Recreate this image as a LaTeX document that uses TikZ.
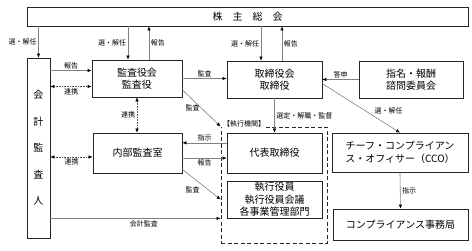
\documentclass[tikz,border=0pt]{standalone}
\usepackage{fontspec}
\newfontfamily\cjk{Noto Sans CJK JP}
\usetikzlibrary{arrows.meta,calc}
\tikzset{
  box/.style={draw=black!85,line width=0.7pt,align=center,inner sep=1pt,font=\cjk\fontsize{10}{12.5}\selectfont},
  lbl/.style={font=\cjk\fontsize{7}{8}\selectfont,inner sep=1.5pt},
  conn/.style={draw=black!50,line width=0.6pt,-{Latex[length=4pt,width=3.5pt,color=black]}},
  link/.style={draw=black!70,line width=0.6pt,densely dotted,{Latex[length=4pt,width=3.5pt,color=black]}-{Latex[length=4pt,width=3.5pt,color=black]}},
}
\begin{document}
\begin{tikzpicture}[x=1pt,y=-1pt]
\useasboundingbox (0,0) rectangle (472,250);
% boxes
\node[box,minimum width=441pt,minimum height=19pt] (soukai) at (247.5,16.5) {株\quad 主\quad 総\quad 会};
\node[box,minimum width=23pt,minimum height=180pt] (kaikei) at (38.5,148) {会\\[14pt]計\\[14pt]監\\[14pt]査\\[14pt]人};
\node[box,minimum width=90pt,minimum height=37pt] (kansa) at (137,78.5) {監査役会\\監査役};
\node[box,minimum width=95pt,minimum height=37pt] (tori) at (274.5,79.5) {取締役会\\取締役};
\node[box,minimum width=104pt,minimum height=37pt] (shimei) at (411,79.5) {指名・報酬\\諮問委員会};
\node[box,minimum width=89pt,minimum height=40pt] (naibu) at (137.5,153) {内部監査室};
\node[box,minimum width=95pt,minimum height=40pt] (daihyo) at (274.5,153) {代表取締役};
\node[box,minimum width=95pt,minimum height=37pt] (shikko) at (274.5,199.5) {執行役員\\執行役員会議\\各事業管理部門};
\node[box,minimum width=136pt,minimum height=39pt] (cco) at (400,152.5) {チーフ・コンプライアン\\ス・オフィサー（CCO）};
\node[box,minimum width=135pt,minimum height=31pt] (jimu) at (400.5,224.5) {コンプライアンス事務局};
% executive frame
\node[draw=black!85,line width=0.9pt,dash pattern=on 4pt off 2.5pt,minimum width=106pt,minimum height=116pt] (kikan) at (274,185) {};
\node[lbl,fill=white,anchor=south west,inner sep=1pt] (kikanlbl) at (222,128.5) {【執行機関】};
% from the shareholders
\draw[conn] (kaikei.north |- soukai.south) -- (kaikei.north) node[lbl,midway,left]{選・解任};
\draw[conn] ($(kansa.north |- soukai.south)+(-9,0)$) -- ($(kansa.north)+(-9,0)$) node[lbl,midway,left]{選・解任};
\draw[conn] ($(kansa.north)+(12,0)$) -- ($(kansa.north |- soukai.south)+(12,0)$) node[lbl,midway,right]{報告};
\draw[conn] ($(tori.north |- soukai.south)+(-13.5,0)$) -- ($(tori.north)+(-13.5,0)$) node[lbl,midway,left]{選・解任};
\draw[conn] ($(tori.north)+(7.5,0)$) -- ($(tori.north |- soukai.south)+(7.5,0)$) node[lbl,midway,right]{報告};
% auditors
\draw[conn] (kaikei.east |- kansa.170) -- (kansa.170) node[lbl,midway,above]{報告};
\draw[link] (kaikei.east |- kansa.190) -- (kansa.190) node[lbl,midway,below]{連携};
\draw[link] (kaikei.east |- naibu.185) -- (naibu.185) node[lbl,midway,below]{連携};
\draw[link] (kansa.south) -- (kansa.south |- naibu.north) node[lbl,midway,left]{連携};
\draw[conn] (kansa.east) -- (kansa.east -| tori.west) node[lbl,midway,above]{監査};
\draw[conn] (kansa.-14) -- (kikan.north west) node[lbl,midway,left]{監査};
\draw[conn] (daihyo.168) -- (naibu.east |- daihyo.168) node[lbl,midway,above]{指示};
\draw[conn] (naibu.east |- daihyo.186) -- (daihyo.186) node[lbl,midway,below]{報告};
\draw[conn] (naibu.-20) -- (kikan.west |- shikko) node[lbl,midway,below left]{監査};
\draw[conn] (kaikei.east |- shikko.south) -- (kikan.west |- shikko.south) node[lbl,pos=0.55,below]{会計監査};
% board
\draw[conn] (shimei.west) -- (shimei.west -| tori.east) node[lbl,midway,above]{答申};
\draw[conn] (tori.south) -- (daihyo.north) node[lbl,midway,right]{選定・解職・監督};
\draw[conn] (tori.-5) -- (cco.north) node[lbl,pos=0.65,above right]{選・解任};
\draw[conn] (cco.south) -- (jimu.north) node[lbl,midway,right]{指示};
\end{tikzpicture}
\end{document}
